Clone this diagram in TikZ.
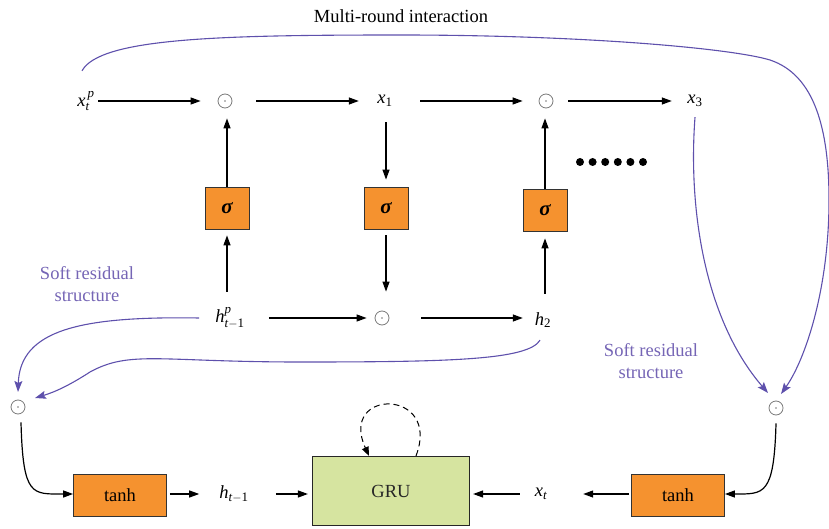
\documentclass[tikz,border=0pt]{standalone}
\usepackage{fontspec}
\setmainfont{Liberation Serif}
\usepackage{amsmath}
\usetikzlibrary{arrows.meta,calc}
\definecolor{boxorange}{HTML}{F5922F}
\definecolor{grugreen}{HTML}{D6E4A0}
\definecolor{resline}{HTML}{5E50AC}
\definecolor{restext}{HTML}{7565B5}
\definecolor{odotgray}{HTML}{7A7A7A}
% italic variable letters set in the text face
\newcommand{\tv}[1]{\text{\itshape #1}}
\newcommand{\tn}[1]{\text{#1}}
\newcommand{\gatesym}{{\fontsize{21}{22}\selectfont\bfseries\itshape σ}}
\begin{document}
\begin{tikzpicture}[x=1pt,y=-1pt,
  font=\fontsize{18.5}{22}\selectfont,
  arr/.style={line width=1.2pt,-{Triangle[length=10pt,width=7pt]}},
  resarr/.style={draw=resline,line width=1.1pt,-{Stealth[length=11pt,width=8pt,inset=2pt]}},
  var/.style={minimum width=24pt,minimum height=24pt,inner sep=0pt},
  odot/.style={circle,draw=odotgray,line width=0.8pt,minimum size=14pt,inner sep=0pt,
    path picture={\fill[odotgray] (path picture bounding box.center) circle (0.9pt);}},
  gate/.style={draw=black!80,line width=0.8pt,fill=boxorange,minimum width=44pt,minimum height=42pt,inner sep=0pt},
  actbox/.style={draw=black!80,line width=0.8pt,fill=boxorange,minimum width=93pt,minimum height=42pt,inner sep=0pt},
  restxt/.style={text=restext,align=center}
]
\useasboundingbox (0,0) rectangle (829,529);

% ---- top row ----
\node[var] (xtp) at (86,101) {$\tv{x}_{\tv{t}}^{\,\tv{p}}$};
\node[odot] (o1) at (225,101) {};
\node[var] (x1) at (385,101) {$\tv{x}_{\tn{1}}$};
\node[odot] (o2) at (546,101) {};
\node[var] (x3) at (695,101) {$\tv{x}_{\tn{3}}$};

% ---- gates ----
\node[gate] (b1) at (227,208) {\gatesym};
\node[gate] (b2) at (386,208) {\gatesym};
\node[gate] (b3) at (545,210) {\gatesym};

% ---- middle row ----
\node[var] (hp) at (230,318) {$\tv{h}_{\tv{t}-\tn{1}}^{\tv{p}}$};
\node[odot] (o3) at (382,318) {};
\node[var] (h2) at (543,320) {$\tv{h}_{\tn{2}}$};

% ---- side products ----
\node[odot] (lo) at (18,407) {};
\node[odot] (ro) at (776,408) {};

% ---- bottom row ----
\node[actbox] (tl) at (120,495) {tanh};
\node[var] (hprev) at (234,494) {$\tv{h}_{\tv{t}-\tn{1}}$};
\node[draw=black!85,line width=1.2pt,fill=grugreen,minimum width=157pt,minimum height=69pt,
      inner sep=0pt,text=black!85] (gru) at (391,491) {GRU};
\node[var] (xt) at (541,494) {$\tv{x}_{\tv{t}}$};
\node[actbox] (tr) at (678,495) {tanh};

% ---- labels ----
\node (title) at (401,16) {Multi-round interaction};
\node[restxt] (srl) at (87,284) {Soft residual\\structure};
\node[restxt] (srr) at (651,361) {Soft residual\\structure};

% ---- ellipsis dots ----
\foreach \i in {0,...,5} \fill (580+12.6*\i,162) circle (4pt);

% ---- top row arrows ----
\draw[arr,shorten >=17pt] (xtp.east) -- (o1.west);
\draw[arr,shorten <=24pt,shorten >=14pt] (o1.east) -- (x1.west);
\draw[arr,shorten <=23pt,shorten >=16pt] (x1.east) -- (o2.west);
\draw[arr,shorten <=15pt,shorten >=11pt] (o2.east) -- (x3.west);

% ---- vertical arrows ----
\draw[arr,shorten >=10pt] (b1.north) -- (b1.north |- o1.south);
\draw[arr,shorten <=14pt,shorten >=6pt] (b1.south |- hp.north) -- (b1.south);
\draw[arr,shorten <=9pt,shorten >=7pt] (b2.north |- x1.south) -- (b2.north);
\draw[arr,shorten <=6pt,shorten >=19pt] (b2.south) -- (b2.south |- o3.north);
\draw[arr,shorten <=14pt,shorten >=7pt] (b3.south |- h2.north) -- (b3.south);
\draw[arr,shorten >=10pt] (b3.north) -- (b3.north |- o2.south);

% ---- middle row arrows ----
\draw[arr,shorten <=24pt,shorten >=8pt] (hp.east) -- (o3.west);
\draw[arr,shorten <=32pt,shorten >=8pt] (o3.east) -- (o3.east -| h2.west);

% ---- bottom row arrows ----
\draw[arr,shorten <=3pt,shorten >=20pt] (tl.east |- hprev) -- (hprev.west);
\draw[arr,shorten <=27pt,shorten >=4pt] (hprev.east) -- (hprev.east -| gru.west);
\draw[arr,shorten <=9pt,shorten >=3pt] (xt.west) -- (xt.west -| gru.east);
\draw[arr,shorten <=2pt,shorten >=30pt] (tr.west |- xt) -- (xt.east);

% ---- products into tanh ----
\draw[arr] ([xshift=3pt,yshift=-8pt]lo.south) .. controls (23,497) and (32,494) .. (tl.west |- hprev);
\draw[arr] ([yshift=-8pt]ro.south) .. controls (774,496) and (764,494) .. (tr.east |- xt);

% ---- GRU recurrence ----
\draw[line width=1pt,dash pattern=on 6pt off 4pt,-{Triangle[length=9pt,width=7pt]}]
  ([xshift=25pt]gru.north) .. controls (442,388) and (338,388) .. ([xshift=-22pt]gru.north);

% ---- residual connections ----
\draw[resarr] ([shift={(-4,-18)}]xtp.north)
  .. controls (100,38) and (220,35) .. (400,35)
  .. controls (580,35) and (730,48) .. (770,60)
  .. controls (815,75) and (829,130) .. (829,200)
  .. controls (829,290) and (805,360) .. ($(ro)+(5,-14)$);
\draw[resarr] ([yshift=-4pt]x3.south)
  .. controls (688,210) and (705,320) .. ($(ro)+(-8,-15)$);
\draw[resarr] ([xshift=-16pt]hp.west)
  .. controls (80,316) and (20,330) .. ($(lo)+(0,-15)$);
\draw[resarr] ([shift={(-3,8)}]h2.south)
  .. controls (528,360) and (450,362) .. (300,362)
  .. controls (160,362) and (130,350) .. (90,372)
  .. controls (70,385) and (55,392) .. ($(lo)+(17,-9)$);
\end{tikzpicture}
\end{document}
